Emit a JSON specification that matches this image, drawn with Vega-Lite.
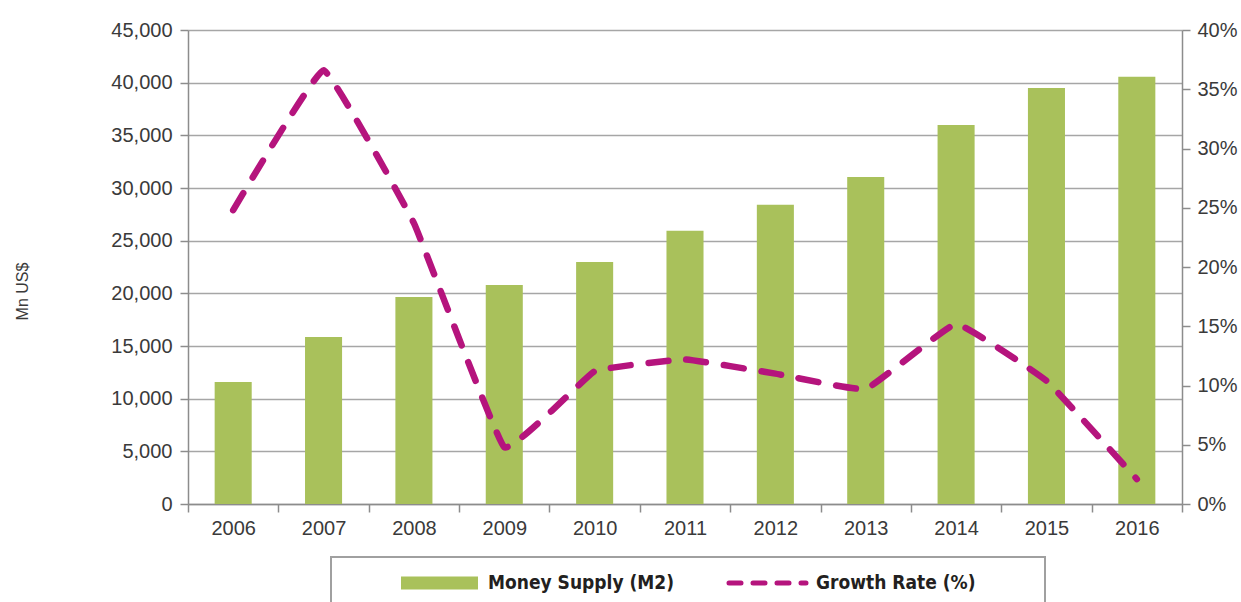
{
  "$schema": "https://vega.github.io/schema/vega-lite/v6.json",
  "width": 994,
  "height": 474,
  "autosize": {"type": "none"},
  "padding": {"left": 188, "top": 30, "right": 59, "bottom": 98},
  "background": "white",
  "data": {
    "values": [
      {"year": "2006", "m2": 11580, "growth": 24.8},
      {"year": "2007", "m2": 15860, "growth": 36.6},
      {"year": "2008", "m2": 19660, "growth": 23.7},
      {"year": "2009", "m2": 20800, "growth": 4.8},
      {"year": "2010", "m2": 22980, "growth": 11.2},
      {"year": "2011", "m2": 25930, "growth": 12.2},
      {"year": "2012", "m2": 28400, "growth": 11.0},
      {"year": "2013", "m2": 31050, "growth": 9.7},
      {"year": "2014", "m2": 35990, "growth": 15.2},
      {"year": "2015", "m2": 39500, "growth": 10.4},
      {"year": "2016", "m2": 40550, "growth": 2.1}
    ]
  },
  "encoding": {
    "x": {
      "field": "year",
      "type": "ordinal",
      "scale": {"paddingInner": 0, "paddingOuter": 0},
      "axis": {"title": null, "labelAngle": 0, "tickBand": "extent", "tickSize": 8, "labelPadding": 6, "grid": false}
    }
  },
  "layer": [
    {
      "mark": {"type": "bar", "width": {"band": 0.41}},
      "encoding": {
        "y": {
          "field": "m2",
          "type": "quantitative",
          "scale": {"domain": [0, 45000], "nice": false},
          "axis": {
            "values": [0, 5000, 10000, 15000, 20000, 25000, 30000, 35000, 40000, 45000],
            "format": ",d",
            "grid": true,
            "tickSize": 8,
            "labelPadding": 8,
            "title": "Mn US$",
            "titleFont": "Liberation Sans",
            "titleFontSize": 16,
            "titleFontWeight": "normal",
            "titleColor": "#3A3A3A",
            "titleAngle": -90,
            "titleAlign": "center",
            "titleBaseline": "middle",
            "titleX": -166,
            "titleY": 261
          }
        },
        "color": {
          "datum": "Money Supply (M2)",
          "scale": {"domain": ["Money Supply (M2)", "Growth Rate (%)"], "range": ["#A9C15B", "#B5147D"]},
          "legend": {
            "orient": "none",
            "legendX": 143,
            "legendY": 527,
            "direction": "horizontal",
            "title": " ",
            "titleOrient": "right",
            "titlePadding": 54,
            "titleFontSize": 2,
            "padding": 16,
            "strokeColor": "#A0A0A0",
            "fillColor": "white",
            "symbolOffset": 83,
            "labelOffset": 39,
            "columnPadding": -14,
            "clipHeight": 20,
            "symbolSize": 5929,
            "labelFont": "DejaVu Sans Condensed, Liberation Sans, sans-serif",
            "labelFontSize": 19,
            "labelFontWeight": "bold",
            "labelColor": "#231F20",
            "labelLimit": 400,
            "encode": {
              "legend": {"update": {"strokeWidth": {"value": 2}}},
              "symbols": {
                "update": {
                  "shape": {"signal": "datum.value === 'Growth Rate (%)' ? 'M-1,0L1,0' : 'M-1,-0.17L1,-0.17L1,0.17L-1,0.17Z'"},
                  "fill": {"signal": "datum.value === 'Growth Rate (%)' ? 'transparent' : '#A9C15B'"},
                  "stroke": {"signal": "datum.value === 'Growth Rate (%)' ? '#B5147D' : 'transparent'"},
                  "strokeWidth": {"signal": "datum.value === 'Growth Rate (%)' ? 5 : 0"},
                  "strokeDash": {"signal": "datum.value === 'Growth Rate (%)' ? [12, 12] : [1, 0]"},
                  "strokeCap": {"value": "round"},
                  "opacity": {"value": 1}
                }
              }
            }
          }
        }
      }
    },
    {
      "mark": {"type": "line", "interpolate": "cardinal", "tension": 0.75, "strokeWidth": 6.5, "strokeDash": [20, 18], "strokeCap": "round"},
      "encoding": {
        "y": {
          "field": "growth",
          "type": "quantitative",
          "scale": {"domain": [0, 40], "nice": false},
          "axis": {
            "orient": "right",
            "values": [0, 5, 10, 15, 20, 25, 30, 35, 40],
            "labelExpr": "datum.value + '%'",
            "grid": false,
            "tickSize": 8,
            "labelPadding": 7,
            "title": null
          }
        },
        "color": {"datum": "Growth Rate (%)"}
      }
    }
  ],
  "resolve": {"scale": {"y": "independent"}},
  "config": {
    "view": {"stroke": null},
    "axis": {
      "labelFont": "Liberation Sans",
      "labelFontSize": 20,
      "labelColor": "#3A3A3A",
      "domainColor": "#8C8C8C",
      "domainWidth": 1.5,
      "tickColor": "#8C8C8C",
      "tickWidth": 1.5,
      "gridColor": "#A6A6A6",
      "gridWidth": 1.5
    }
  }
}
